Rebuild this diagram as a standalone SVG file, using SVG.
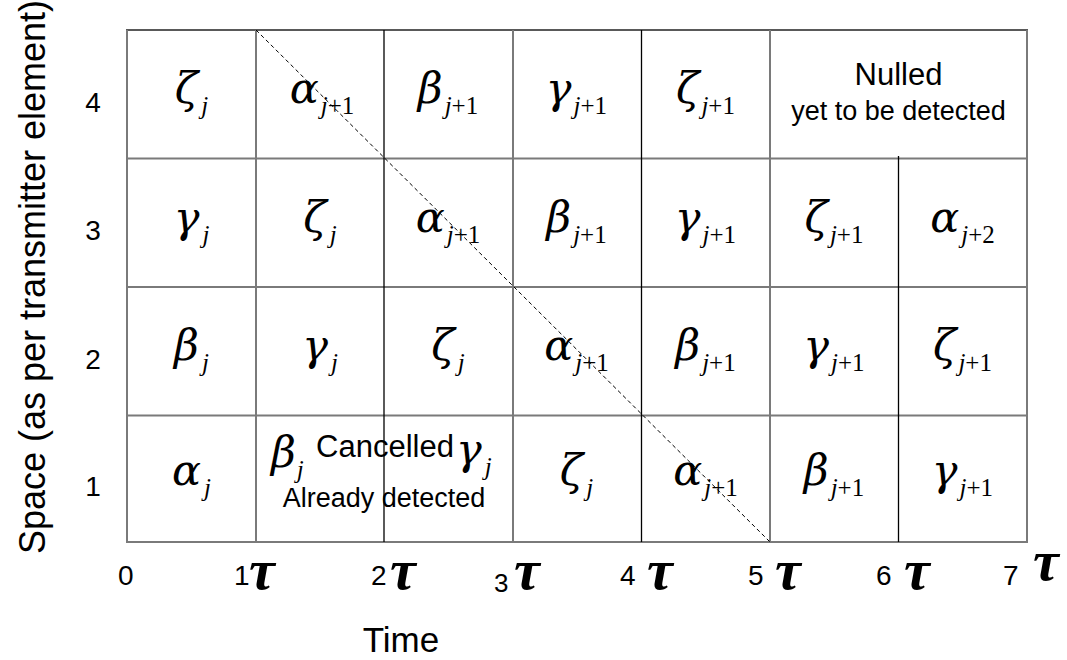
<svg xmlns="http://www.w3.org/2000/svg" width="1067" height="660" viewBox="0 0 1067 660">
<style>
.g{font-family:"DejaVu Serif","Liberation Serif",serif;font-style:italic;font-size:43px;fill:#000}
.s{font-family:"Liberation Serif","Times New Roman",serif;font-size:25px;font-style:normal}
.i{font-style:italic}
.a{font-family:"Liberation Sans",Arial,sans-serif;fill:#000}
.t{font-family:"Liberation Serif","Times New Roman",serif;font-style:italic;font-weight:bold;font-size:58px;fill:#000}
.gl{stroke:#7a7a7a;stroke-width:2;fill:none}
.bl{stroke:#000;stroke-width:1.3;fill:none}
</style>
<rect width="1067" height="660" fill="#fff"/>
<g id="grid">
<line class="gl" x1="127" y1="158.5" x2="1027" y2="158.5"/>
<line class="gl" x1="127" y1="287" x2="1027" y2="287"/>
<line class="gl" x1="127" y1="415.5" x2="1027" y2="415.5"/>
<line class="gl" x1="126" y1="542" x2="1028" y2="542" stroke="#555"/>
<line x1="126" y1="30" x2="1028" y2="30" stroke="#222" stroke-width="1.5"/>
<line class="gl" x1="127" y1="30" x2="127" y2="542" stroke="#555"/>
<line class="gl" x1="256" y1="30" x2="256" y2="542" stroke="#666" stroke-width="1.6"/>
<line class="bl" x1="384" y1="30" x2="384" y2="542"/>
<line class="gl" x1="513" y1="30" x2="513" y2="542"/>
<line class="bl" x1="641.5" y1="30" x2="641.5" y2="542"/>
<line class="gl" x1="770" y1="30" x2="770" y2="542"/>
<line class="bl" x1="898.5" y1="156" x2="898.5" y2="542"/>
<line class="gl" x1="1027" y1="30" x2="1027" y2="542"/>
</g>
<g id="connectors">
<line x1="256" y1="30" x2="770" y2="542" stroke="#000" stroke-width="1" stroke-dasharray="4,3"/>
</g>
<g id="axis-y">
<text class="a" font-size="36" text-anchor="middle" transform="translate(45,277) rotate(-90)">Space (as per transmitter element)</text>
<text class="a" font-size="28" x="93" y="112" text-anchor="middle">4</text>
<text class="a" font-size="28" x="93" y="240" text-anchor="middle">3</text>
<text class="a" font-size="28" x="93" y="369" text-anchor="middle">2</text>
<text class="a" font-size="28" x="93" y="496" text-anchor="middle">1</text>
</g>
<g id="axis-x">
<text class="a" font-size="28" x="118" y="585">0</text>
<text class="a" font-size="28" x="234" y="585">1</text><text class="t" x="249" y="589">τ</text>
<text class="a" font-size="28" x="371" y="585">2</text><text class="t" x="390" y="589">τ</text>
<text class="a" font-size="26" x="494" y="592">3</text><text class="t" x="514" y="589">τ</text>
<text class="a" font-size="28" x="620" y="585">4</text><text class="t" x="647" y="589">τ</text>
<text class="a" font-size="28" x="748" y="585">5</text><text class="t" x="775" y="589">τ</text>
<text class="a" font-size="28" x="876" y="585">6</text><text class="t" x="904" y="589">τ</text>
<text class="a" font-size="28" x="1003" y="585">7</text><text class="t" x="1033" y="580">τ</text>
<text class="a" font-size="35" x="401" y="652" text-anchor="middle">Time</text>
</g>
<g id="r4c1"><text class="g" x="191.5" y="103" text-anchor="middle">ζ<tspan class="s i" dx="3" dy="11">j</tspan></text></g>
<g id="r4c2"><text class="g" x="322" y="103" text-anchor="middle">α<tspan class="s" dx="2" dy="11"><tspan class="i">j</tspan>+1</tspan></text></g>
<g id="r4c3"><text class="g" x="448" y="103" text-anchor="middle">β<tspan class="s" dx="2" dy="11"><tspan class="i">j</tspan>+1</tspan></text></g>
<g id="r4c4"><text class="g" x="576.5" y="103" text-anchor="middle">γ<tspan class="s" dx="2" dy="11"><tspan class="i">j</tspan>+1</tspan></text></g>
<g id="r4c5"><text class="g" x="705.5" y="103" text-anchor="middle">ζ<tspan class="s" dx="2" dy="11"><tspan class="i">j</tspan>+1</tspan></text></g>
<g id="nulled">
<text class="a" font-size="31" x="898.5" y="85" text-anchor="middle">Nulled</text>
<text class="a" font-size="27" x="898.5" y="120" text-anchor="middle">yet to be detected</text>
</g>
<g id="r3c1"><text class="g" x="191.5" y="232" text-anchor="middle">γ<tspan class="s i" dx="3" dy="11">j</tspan></text></g>
<g id="r3c2"><text class="g" x="320" y="232" text-anchor="middle">ζ<tspan class="s i" dx="3" dy="11">j</tspan></text></g>
<g id="r3c3"><text class="g" x="448" y="232" text-anchor="middle">α<tspan class="s" dx="2" dy="11"><tspan class="i">j</tspan>+1</tspan></text></g>
<g id="r3c4"><text class="g" x="576.5" y="232" text-anchor="middle">β<tspan class="s" dx="2" dy="11"><tspan class="i">j</tspan>+1</tspan></text></g>
<g id="r3c5"><text class="g" x="705.5" y="232" text-anchor="middle">γ<tspan class="s" dx="2" dy="11"><tspan class="i">j</tspan>+1</tspan></text></g>
<g id="r3c6"><text class="g" x="834" y="232" text-anchor="middle">ζ<tspan class="s" dx="2" dy="11"><tspan class="i">j</tspan>+1</tspan></text></g>
<g id="r3c7"><text class="g" x="962.5" y="232" text-anchor="middle">α<tspan class="s" dx="2" dy="11"><tspan class="i">j</tspan>+2</tspan></text></g>
<g id="r2c1"><text class="g" x="191.5" y="360" text-anchor="middle">β<tspan class="s i" dx="3" dy="11">j</tspan></text></g>
<g id="r2c2"><text class="g" x="320" y="360" text-anchor="middle">γ<tspan class="s i" dx="3" dy="11">j</tspan></text></g>
<g id="r2c3"><text class="g" x="448" y="360" text-anchor="middle">ζ<tspan class="s i" dx="3" dy="11">j</tspan></text></g>
<g id="r2c4"><text class="g" x="576.5" y="360" text-anchor="middle">α<tspan class="s" dx="2" dy="11"><tspan class="i">j</tspan>+1</tspan></text></g>
<g id="r2c5"><text class="g" x="705.5" y="360" text-anchor="middle">β<tspan class="s" dx="2" dy="11"><tspan class="i">j</tspan>+1</tspan></text></g>
<g id="r2c6"><text class="g" x="834" y="360" text-anchor="middle">γ<tspan class="s" dx="2" dy="11"><tspan class="i">j</tspan>+1</tspan></text></g>
<g id="r2c7"><text class="g" x="962.5" y="360" text-anchor="middle">ζ<tspan class="s" dx="2" dy="11"><tspan class="i">j</tspan>+1</tspan></text></g>
<g id="r1c1"><text class="g" x="191.5" y="485" text-anchor="middle">α<tspan class="s i" dx="3" dy="11">j</tspan></text></g>
<g id="r1c2"><text class="g" x="271" y="467">β<tspan class="s i" dx="1" dy="11">j</tspan></text></g>
<g id="r1c3"><text class="g" x="456" y="464">γ<tspan class="s i" dx="3" dy="11">j</tspan></text></g>
<g id="cancelled">
<text class="a" font-size="31" x="385" y="457" text-anchor="middle">Cancelled</text>
<text class="a" font-size="27" x="384" y="507" text-anchor="middle">Already detected</text>
</g>
<g id="r1c4"><text class="g" x="576.5" y="485" text-anchor="middle">ζ<tspan class="s i" dx="3" dy="11">j</tspan></text></g>
<g id="r1c5"><text class="g" x="705.5" y="485" text-anchor="middle">α<tspan class="s" dx="2" dy="11"><tspan class="i">j</tspan>+1</tspan></text></g>
<g id="r1c6"><text class="g" x="834" y="485" text-anchor="middle">β<tspan class="s" dx="2" dy="11"><tspan class="i">j</tspan>+1</tspan></text></g>
<g id="r1c7"><text class="g" x="962.5" y="485" text-anchor="middle">γ<tspan class="s" dx="2" dy="11"><tspan class="i">j</tspan>+1</tspan></text></g>
</svg>
